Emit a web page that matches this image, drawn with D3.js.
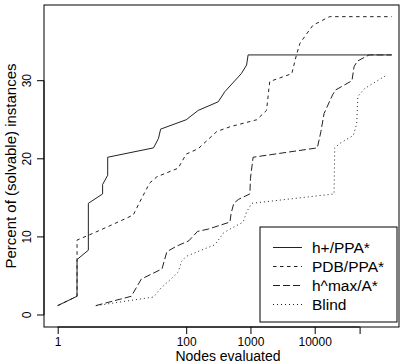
<!DOCTYPE html>
<html>
<head>
<meta charset="utf-8">
<script src="https://cdn.jsdelivr.net/npm/d3@7"></script>
<style>
  body { margin: 0; background: #fff; }
  svg { display: block; font-family: "Liberation Sans", Arial, sans-serif; }
</style>
</head>
<body>
<svg id="chart" width="403" height="364"></svg>
<script>
// series: [nodes evaluated, percent of solvable instances]
const hplusPPA = [[1,1.2],[2,2.4],[2,7.1],[3,8.3],[3,14.3],[5,15.5],[5,16.7],[6,17.9],[6,20.2],
  [31,21.4],[37,22.6],[40,23.8],[100,25.0],[154,26.2],[315,27.3],[400,28.6],[720,30.9],[870,32.0],
  [920,33.3],[158000,33.3]];
const pdbPPA = [[1,1.2],[2,2.4],[2,9.6],[3,10.2],[6,11.3],[15,12.8],[19,14.5],[27,16.9],[35,17.7],
  [75,18.8],[100,20.6],[154,21.3],[300,23.5],[480,24.1],[1250,25.0],[1780,26.2],[1950,29.2],
  [2000,29.9],[4400,30.9],[5200,33.3],[5900,34.8],[8300,36.5],[9400,37.1],[17000,38.2],[158000,38.2]];
const hmaxA = [[3.9,1.2],[14,2.4],[20,4.6],[42,5.9],[50,8.1],[70,8.8],[110,9.5],[150,10.7],[220,11.0],
  [480,11.9],[500,13.0],[550,14.3],[650,14.8],[980,15.5],[1000,17.5],[1100,20.2],[11000,21.4],
  [12500,23.5],[14000,25.8],[19000,28.2],[21000,28.8],[38000,30.0],[41000,31.8],[46000,32.5],
  [70000,33.3],[158000,33.3]];
const blind = [[4,1.2],[12,1.8],[31,2.3],[41,3.5],[56,4.5],[75,5.5],[85,6.9],[100,7.5],[160,8.2],
  [280,9.0],[380,10.5],[480,11.0],[770,11.9],[870,13.2],[1050,14.3],[20000,15.5],[20500,21.4],
  [25000,22.0],[40000,23.0],[45000,24.5],[47000,28.0],[60000,29.0],[131000,30.7]];

const seriesNames = ["h+/PPA*", "PDB/PPA*", "h^max/A*", "Blind"];
const seriesData = [hplusPPA, pdbPPA, hmaxA, blind];
const dashes = [null, "3.5,3.5", "7,3", "1,3"];

const xTicks = [1, 100, 1000, 10000, 50000];
const xTickLabels = ["1", "100", "1000", "10000", ""];
const yTicks = [0, 10, 20, 30];

const svg = d3.select("#chart");
const box = {left: 44, right: 399, top: 5, bottom: 327};

// log x: 1 -> 57.7, 10000 -> 314.7
const x = d3.scaleLog().domain([1, 10000]).range([57.7, 314.7]);
const y = d3.scaleLinear().domain([0, 30]).range([315, 80.7]);

const line = d3.line().x(d => x(d[0])).y(d => y(d[1]));

svg.selectAll("path.series")
  .data(seriesData)
  .enter()
  .append("path")
  .attr("class", "series")
  .attr("d", line)
  .attr("fill", "none")
  .attr("stroke", "#222")
  .attr("stroke-width", 1)
  .attr("stroke-dasharray", (d, i) => dashes[i]);

// plot frame
svg.append("rect")
  .attr("x", box.left).attr("y", box.top)
  .attr("width", box.right - box.left).attr("height", box.bottom - box.top)
  .attr("fill", "none").attr("stroke", "#000").attr("stroke-width", 1);

// x axis
const xAxis = d3.axisBottom(x).tickValues(xTicks)
  .tickFormat((d, i) => xTickLabels[i]).tickSize(7).tickPadding(3);
const gx = svg.append("g").attr("transform", `translate(0,${box.bottom})`).call(xAxis);
gx.select(".domain").attr("d", `M${x(1)},0H${x(50000)}`);
gx.selectAll("text").attr("font-size", 12).attr("font-family", null).attr("fill", "#000");

// y axis
const yAxis = d3.axisLeft(y).tickValues(yTicks).tickSize(7).tickPadding(3);
const gy = svg.append("g").attr("transform", `translate(${box.left},0)`).call(yAxis);
gy.select(".domain").attr("d", `M0,${y(0)}V${y(30)}`);
gy.selectAll("text")
  .attr("font-size", 12).attr("font-family", null).attr("fill", "#000")
  .attr("text-anchor", "middle").attr("dy", null).attr("x", null)
  .attr("transform", d => `translate(-13,${y(d)}) rotate(-90)`)
  .attr("y", 0);
gy.selectAll(".tick").attr("transform", null);
gy.selectAll(".tick line").attr("transform", d => `translate(0,${y(d)})`);

// axis titles
svg.append("text")
  .attr("x", 228).attr("y", 361)
  .attr("text-anchor", "middle").attr("font-size", 14)
  .text("Nodes evaluated");
svg.append("text")
  .attr("transform", `translate(16,${(box.top + box.bottom) / 2}) rotate(-90)`)
  .attr("text-anchor", "middle").attr("font-size", 15)
  .text("Percent of (solvable) instances");

// legend
const leg = svg.append("g");
leg.append("rect")
  .attr("x", 260).attr("y", 227).attr("width", 137).attr("height", 95)
  .attr("fill", "#fff").attr("stroke", "#000");
seriesNames.forEach((name, i) => {
  const ly = 247.5 + i * 19;
  leg.append("line")
    .attr("x1", 273).attr("x2", 302).attr("y1", ly).attr("y2", ly)
    .attr("stroke", "#222").attr("stroke-dasharray", dashes[i]);
  leg.append("text")
    .attr("x", 312).attr("y", ly).attr("dy", "0.35em")
    .attr("font-size", 15.5).text(name);
});
</script>
</body>
</html>
